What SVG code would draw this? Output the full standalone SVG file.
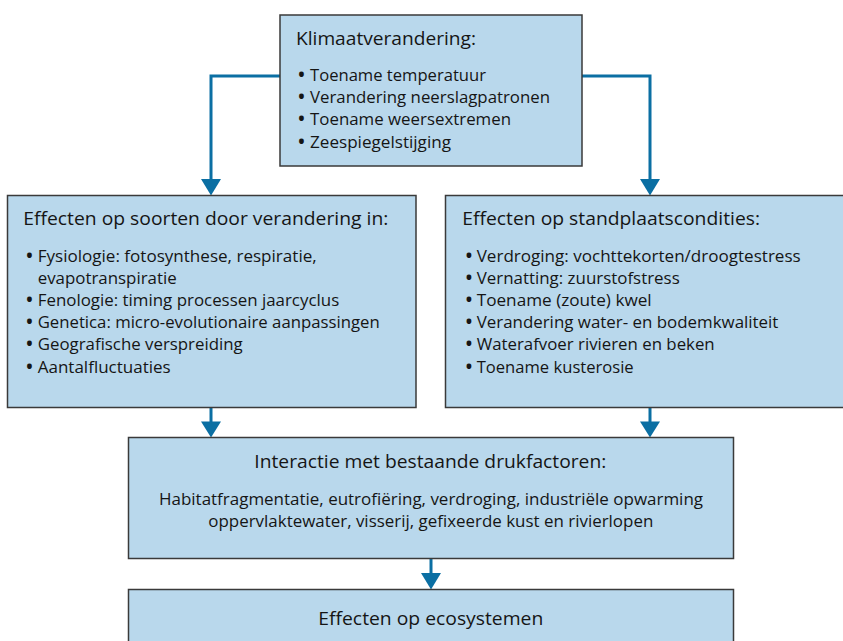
<svg xmlns="http://www.w3.org/2000/svg" width="843" height="641" viewBox="0 0 843 641">
  <style>
    .box { fill: #b9d8ec; stroke: #3a3a3a; stroke-width: 1.5; }
    .t { font-family: "Open Sans", "Noto Sans", "Liberation Sans", sans-serif; fill: #151515; }
    .h { font-size: 19px; }
    .b { font-size: 17px; }
    .dot { font-size: 17px; font-weight: 700; text-anchor: middle; }
    .wire { fill: none; stroke: #0b6fa3; stroke-width: 3; }
    .head { fill: #0b6fa3; }
  </style>
  <rect width="843" height="641" fill="#ffffff"/>

  <!-- connectors -->
  <g id="connectors">
    <path class="wire" d="M280,76 H211 V182"/>
    <polygon class="head" points="201,179 221,179 211,195.5"/>
    <path class="wire" d="M582,76 H650 V182"/>
    <polygon class="head" points="640,179 660,179 650,195.5"/>
    <path class="wire" d="M211,408 V424"/>
    <polygon class="head" points="201,421.5 221,421.5 211,437.5"/>
    <path class="wire" d="M650,408 V424"/>
    <polygon class="head" points="640,421.5 660,421.5 650,437.5"/>
    <path class="wire" d="M431,559 V575"/>
    <polygon class="head" points="421,573 441,573 431,589.5"/>
  </g>

  <!-- climate change -->
  <g id="klimaat">
    <rect class="box" x="280" y="15" width="302" height="151"/>
    <text class="t h" x="296" y="45" textLength="180" lengthAdjust="spacingAndGlyphs">Klimaatverandering:</text>
    <text class="t dot" x="301.5" y="81">•</text>
    <text class="t b" x="310" y="81" textLength="176" lengthAdjust="spacingAndGlyphs">Toename temperatuur</text>
    <text class="t dot" x="301.5" y="103">•</text>
    <text class="t b" x="310" y="103" textLength="240" lengthAdjust="spacingAndGlyphs">Verandering neerslagpatronen</text>
    <text class="t dot" x="301.5" y="125.3">•</text>
    <text class="t b" x="310" y="125.3" textLength="201" lengthAdjust="spacingAndGlyphs">Toename weersextremen</text>
    <text class="t dot" x="301.5" y="147.6">•</text>
    <text class="t b" x="310" y="147.6" textLength="141" lengthAdjust="spacingAndGlyphs">Zeespiegelstijging</text>
  </g>

  <!-- effects on species -->
  <g id="soorten">
    <rect class="box" x="7.5" y="195.5" width="408.5" height="212"/>
    <text class="t h" x="23.3" y="225" textLength="365" lengthAdjust="spacingAndGlyphs">Effecten op soorten door verandering in:</text>
    <text class="t dot" x="29.5" y="261.5">•</text>
    <text class="t b" x="37.7" y="261.5" textLength="279" lengthAdjust="spacingAndGlyphs">Fysiologie: fotosynthese, respiratie,</text>
    <text class="t b" x="37.7" y="283.7" textLength="139" lengthAdjust="spacingAndGlyphs">evapotranspiratie</text>
    <text class="t dot" x="29.5" y="305.9">•</text>
    <text class="t b" x="37.7" y="305.9" textLength="301.5" lengthAdjust="spacingAndGlyphs">Fenologie: timing processen jaarcyclus</text>
    <text class="t dot" x="29.5" y="328.1">•</text>
    <text class="t b" x="37.7" y="328.1" textLength="342" lengthAdjust="spacingAndGlyphs">Genetica: micro-evolutionaire aanpassingen</text>
    <text class="t dot" x="29.5" y="350.3">•</text>
    <text class="t b" x="37.7" y="350.3" textLength="205" lengthAdjust="spacingAndGlyphs">Geografische verspreiding</text>
    <text class="t dot" x="29.5" y="372.5">•</text>
    <text class="t b" x="37.7" y="372.5" textLength="133" lengthAdjust="spacingAndGlyphs">Aantalfluctuaties</text>
  </g>

  <!-- effects on site conditions -->
  <g id="standplaats">
    <rect class="box" x="445.5" y="195.5" width="402" height="212"/>
    <text class="t h" x="462.3" y="225" textLength="297.7" lengthAdjust="spacingAndGlyphs">Effecten op standplaatscondities:</text>
    <text class="t dot" x="469" y="261.5">•</text>
    <text class="t b" x="476.7" y="261.5" textLength="324" lengthAdjust="spacingAndGlyphs">Verdroging: vochttekorten/droogtestress</text>
    <text class="t dot" x="469" y="283.7">•</text>
    <text class="t b" x="476.7" y="283.7" textLength="203" lengthAdjust="spacingAndGlyphs">Vernatting: zuurstofstress</text>
    <text class="t dot" x="469" y="305.9">•</text>
    <text class="t b" x="476.7" y="305.9" textLength="175" lengthAdjust="spacingAndGlyphs">Toename (zoute) kwel</text>
    <text class="t dot" x="469" y="328.1">•</text>
    <text class="t b" x="476.7" y="328.1" textLength="301.7" lengthAdjust="spacingAndGlyphs">Verandering water- en bodemkwaliteit</text>
    <text class="t dot" x="469" y="350.3">•</text>
    <text class="t b" x="476.7" y="350.3" textLength="238" lengthAdjust="spacingAndGlyphs">Waterafvoer rivieren en beken</text>
    <text class="t dot" x="469" y="372.5">•</text>
    <text class="t b" x="476.7" y="372.5" textLength="157" lengthAdjust="spacingAndGlyphs">Toename kusterosie</text>
  </g>

  <!-- interaction with existing pressures -->
  <g id="interactie">
    <rect class="box" x="128.5" y="437.5" width="605" height="121"/>
    <text class="t h" x="254.3" y="468.3" textLength="352" lengthAdjust="spacingAndGlyphs">Interactie met bestaande drukfactoren:</text>
    <text class="t b" x="159" y="505" textLength="544" lengthAdjust="spacingAndGlyphs">Habitatfragmentatie, eutrofiëring, verdroging, industriële opwarming</text>
    <text class="t b" x="208.3" y="526.7" textLength="445" lengthAdjust="spacingAndGlyphs">oppervlaktewater, visserij, gefixeerde kust en rivierlopen</text>
  </g>

  <!-- ecosystem effects -->
  <g id="ecosystemen">
    <rect class="box" x="128.5" y="589.5" width="605" height="70"/>
    <text class="t h" x="318.3" y="625" textLength="225" lengthAdjust="spacingAndGlyphs">Effecten op ecosystemen</text>
  </g>
</svg>
